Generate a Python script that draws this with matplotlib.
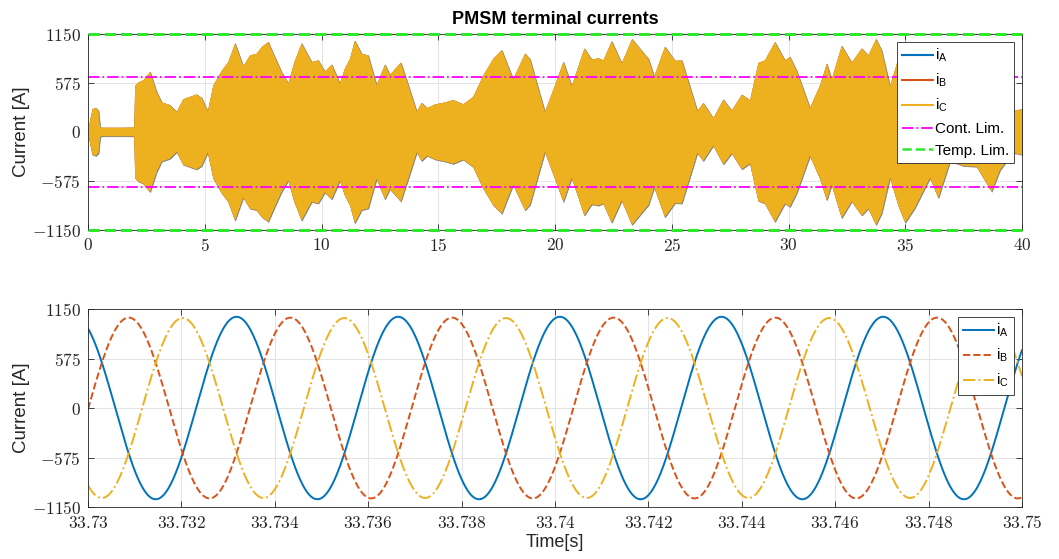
import numpy as np
import matplotlib
matplotlib.use('Agg')
import matplotlib.pyplot as plt
from matplotlib.lines import Line2D
from matplotlib.ticker import FuncFormatter

plt.rcParams['font.family'] = ['Liberation Sans', 'DejaVu Sans']
plt.rcParams['mathtext.fontset'] = 'cm'

# phase current envelope over the whole drive cycle [s], [A]
env_t = [0.0, 0.1, 0.2, 0.34, 0.45, 0.52, 0.6, 1.0, 1.5, 1.98, 2.02, 2.15, 2.37, 2.66,
         2.94, 3.16, 3.51, 3.80, 4.08, 4.65, 4.87, 5.13, 5.37, 5.72, 6.01, 6.30, 6.65,
         6.94, 7.22, 7.44, 7.72, 8.0, 8.29, 8.58, 8.84, 9.15, 9.58, 9.86, 10.15, 10.44,
         10.79, 11.0, 11.22, 11.43, 11.72, 12.0, 12.36, 12.72, 12.93, 13.40, 13.72, 14.08,
         14.29, 14.53, 14.86, 15.29, 15.64, 16.07, 16.50, 16.93, 17.36, 17.72, 18.21,
         18.72, 18.93, 19.57, 20.0, 20.36, 20.72, 21.26, 21.57, 21.86, 22.07, 22.43,
         22.86, 23.3, 23.78, 24.0, 24.25, 24.71, 25.14, 25.43, 25.64, 26.10, 26.35,
         26.78, 27.21, 27.57, 28.0, 28.35, 28.71, 28.99, 29.42, 29.85, 30.06, 30.35,
         30.92, 31.35, 31.64, 31.85, 32.28, 32.71, 33.14, 33.42, 33.75, 33.99, 34.35,
         34.70, 35.0, 35.42, 36.06, 36.42, 36.92, 37.5, 38.06, 38.7, 39.06, 39.6, 39.8, 40.0]
env_amp = [0, 150, 270, 280, 250, 60, 50, 50, 50, 52, 540, 580, 607, 705,
           471, 347, 315, 235, 385, 440, 400, 240, 548, 715, 821, 1040, 770,
           899, 918, 996, 1055, 880, 705, 570, 821, 1040, 821, 840, 710, 790,
           570, 743, 860, 1070, 918, 899, 550, 790, 670, 815, 548, 240,
           340, 280, 323, 347, 375, 325, 413, 665, 860, 960, 620,
           920, 855, 235, 548, 821, 540, 980, 850, 865, 840, 1065,
           805, 1090, 930, 860, 650, 1000, 835, 840, 655, 245, 340,
           160, 380, 250, 438, 370, 810, 840, 1055, 840, 880, 720,
           282, 548, 800, 620, 1010, 815, 980, 899, 1090, 957, 535,
           860, 1065, 890, 540, 774, 345, 400, 408, 700, 447, 250, 255, 270]

cont_lim = 645
temp_lim = 1150

# zoomed window: per-phase peak current, electrical frequency, time of first iA peak
zoom_start, zoom_end = 33.73, 33.75
amp_a, amp_b, amp_c = 1060, 1050, 1045
f_el = 288.9
t_peak_a = 33.73318

c_a, c_b, c_c = '#0072BD', '#D95319', '#EDB120'
yt = [-1150, -575, 0, 575, 1150]
cm_fmt = FuncFormatter(lambda v, p: '${:g}$'.format(v))
leg_kw = dict(loc='upper right', fontsize=11, fancybox=False, framealpha=1,
              edgecolor='#262626', borderaxespad=0.5, handlelength=2.0,
              handletextpad=0.15, labelspacing=0.5, borderpad=0.35)


def style(ax):
    ax.set_ylim(-1150, 1150)
    ax.set_yticks(yt)
    ax.xaxis.set_major_formatter(cm_fmt)
    ax.yaxis.set_major_formatter(cm_fmt)
    ax.tick_params(direction='in', length=4, width=0.6, labelsize=12.5,
                   top=True, right=True, colors='#262626', pad=5)
    ax.grid(True, color='#e3e3e3', lw=0.7)
    ax.set_axisbelow(True)
    for s in ax.spines.values():
        s.set_color('#262626')
        s.set_linewidth(0.6)
    ax.set_ylabel('Current [A]', fontsize=13.5, color='#262626', labelpad=1)


fig = plt.figure(figsize=(10.59, 5.59), dpi=100)
ax0 = fig.add_axes([0.0831, 0.5886, 0.882, 0.3506])
ax1 = fig.add_axes([0.0831, 0.0930, 0.882, 0.3542])

# top: three phase currents seen as filled bands over 40 s
env_t = np.array(env_t)
env_amp = np.array(env_amp)
ax0.fill_between(env_t, -env_amp, env_amp, facecolor=c_a, edgecolor='#8a8f86', lw=0.5)
ax0.fill_between(env_t, -env_amp, env_amp, facecolor=c_b, edgecolor='none')
ax0.fill_between(env_t, -env_amp, env_amp, facecolor=c_c, edgecolor='none')
ax0.axhline(cont_lim, color='#FF00FF', ls='-.', lw=1.3)
ax0.axhline(-cont_lim, color='#FF00FF', ls='-.', lw=1.3)
ax0.axhline(temp_lim, color='#2EE82E', ls='--', lw=2.2, clip_on=False, zorder=3)
ax0.axhline(-temp_lim, color='#2EE82E', ls='--', lw=2.2, clip_on=False, zorder=3)
ax0.set_xlim(0, 40)
ax0.set_xticks(np.arange(0, 41, 5))
style(ax0)
ax0.set_title('PMSM terminal currents', fontsize=13, fontweight='bold', pad=7)

handles = [Line2D([], [], color=c_a, lw=1.5),
           Line2D([], [], color=c_b, lw=1.5),
           Line2D([], [], color=c_c, lw=1.5),
           Line2D([], [], color='#FF00FF', ls='-.', lw=1.3),
           Line2D([], [], color='#2EE82E', ls='--', lw=1.8)]
labels = [r'$\mathregular{i_A}$', r'$\mathregular{i_B}$', r'$\mathregular{i_C}$',
          'Cont. Lim.', 'Temp. Lim.']
leg = ax0.legend(handles, labels, **leg_kw)
leg.get_frame().set_linewidth(0.6)

# bottom: zoom into a few electrical periods
t = np.linspace(zoom_start, zoom_end, 3000)
theta = 2 * np.pi * f_el * (t - t_peak_a)
i_a = amp_a * np.cos(theta)
i_b = amp_b * np.cos(theta - 2 * np.pi / 3)
i_c = amp_c * np.cos(theta + 2 * np.pi / 3)
ax1.plot(t, i_a, color=c_a, lw=1.4, label=r'$\mathregular{i_A}$')
ax1.plot(t, i_b, color=c_b, lw=1.4, ls='--', label=r'$\mathregular{i_B}$')
ax1.plot(t, i_c, color=c_c, lw=1.4, ls='-.', label=r'$\mathregular{i_C}$')
ax1.set_xlim(zoom_start, zoom_end)
ax1.set_xticks(np.arange(33.73, 33.7501, 0.002))
style(ax1)
ax1.set_xlabel('Time[s]', fontsize=13, color='#262626', labelpad=2)
leg1 = ax1.legend(**leg_kw)
leg1.get_frame().set_linewidth(0.6)

fig.savefig('out.png', dpi=100)
